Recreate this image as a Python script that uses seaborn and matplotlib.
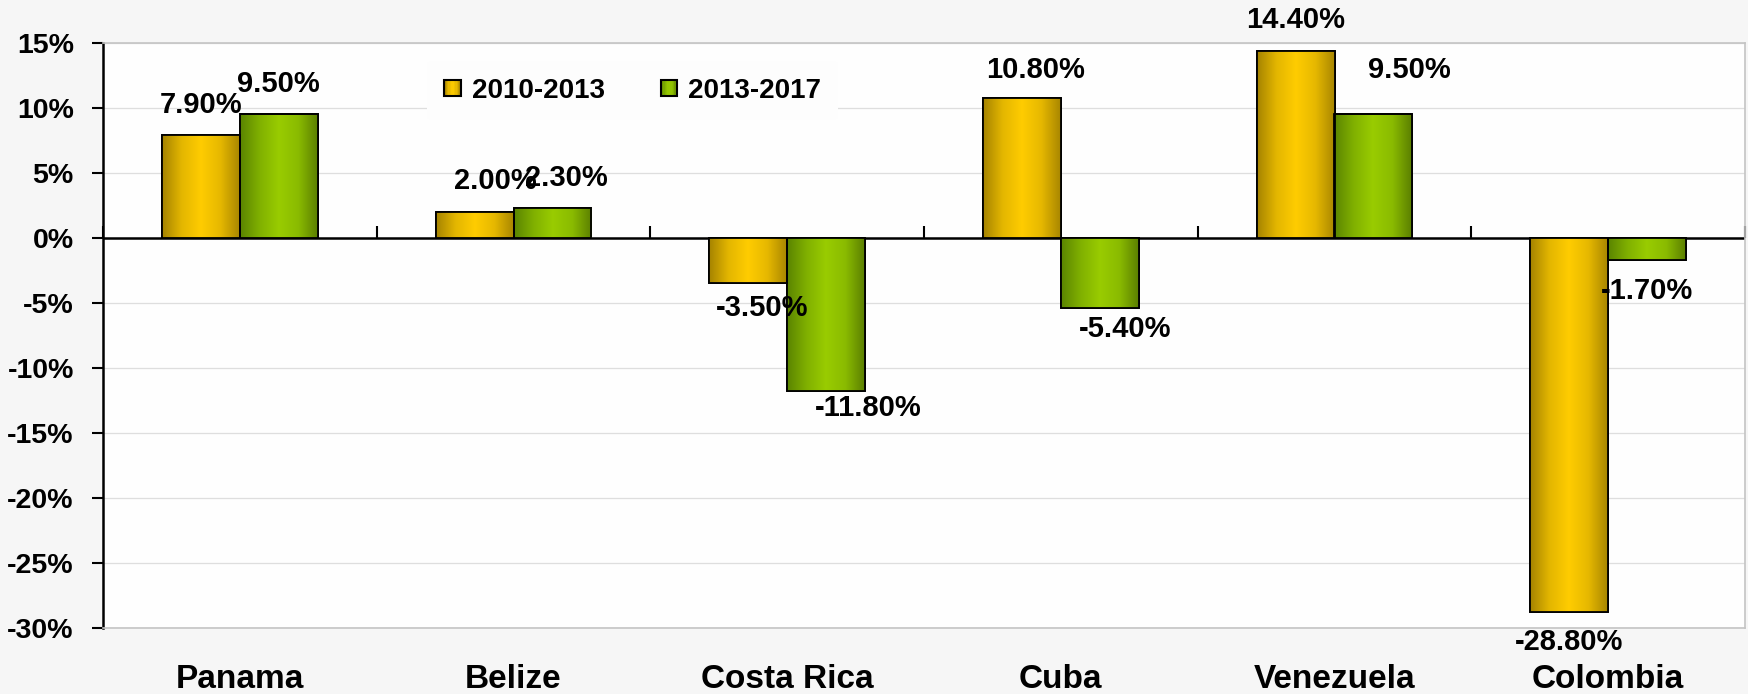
import numpy as np
import pandas as pd
import matplotlib
matplotlib.use("Agg")
import matplotlib.pyplot as plt
from matplotlib.colors import LinearSegmentedColormap
from matplotlib.patches import Rectangle
from matplotlib.legend_handler import HandlerBase
import seaborn as sns

# ---- data -------------------------------------------------------------
countries = ["Panama", "Belize", "Costa Rica", "Cuba", "Venezuela", "Colombia"]
periods = ["2010-2013", "2013-2017"]
growth_2010_2013 = [7.9, 2.0, -3.5, 10.8, 14.4, -28.8]
growth_2013_2017 = [9.5, 2.3, -11.8, -5.4, 9.5, -1.7]
y_ticks = [15, 10, 5, 0, -5, -10, -15, -20, -25, -30]

# label nudges (points) for each bar, per period
label_nudge = [
    [(0, 22), (15, 22), (10, -18), (10, 20), (0, 22), (0, -21)],
    [(0, 22), (10, 22), (30, -12), (18, -15), (26, 32), (0, -22)],
]

df = pd.DataFrame({
    "country": countries * 2,
    "period": [periods[0]] * len(countries) + [periods[1]] * len(countries),
    "value": growth_2010_2013 + growth_2013_2017,
})

# ---- style ------------------------------------------------------------
sns.set_theme(style="white")
plt.rcParams["font.family"] = ["Liberation Sans", "DejaVu Sans"]
plt.rcParams["font.weight"] = "bold"
plt.rcParams["text.color"] = "black"
plt.rcParams["xtick.labelcolor"] = "black"
plt.rcParams["ytick.labelcolor"] = "black"

gold_cmap = LinearSegmentedColormap.from_list(
    "gold", ["#a58300", "#e3b600", "#ffcc00", "#e6b800", "#a88600"])
green_cmap = LinearSegmentedColormap.from_list(
    "green", ["#5a8400", "#80b000", "#99cc00", "#8abb00", "#5b7f00"])
cmaps = [gold_cmap, green_cmap]
base_colors = ["#ffcc00", "#99cc00"]

W, H = 1748, 694
left_px, right_px, top_px, bottom_px = 103, 1745, 43, 628
fig = plt.figure(figsize=(W / 100, H / 100), dpi=100, facecolor="#f6f6f6")
ax = fig.add_axes([left_px / W, 1 - bottom_px / H,
                   (right_px - left_px) / W, (bottom_px - top_px) / H])
ax.set_facecolor("#fefefe")

sns.barplot(data=df, x="country", y="value", hue="period", ax=ax,
            palette=base_colors, width=0.57, saturation=1,
            edgecolor="black", linewidth=1.3, legend=False, zorder=3)

# horizontal gradient fill on each bar
grad = np.linspace(0, 1, 256).reshape(1, -1)
for ci, cont in enumerate(ax.containers):
    for patch in cont.patches:
        x0, y0 = patch.get_x(), patch.get_y()
        w, h = patch.get_width(), patch.get_height()
        im = ax.imshow(grad, extent=[x0, x0 + w, min(y0, y0 + h), max(y0, y0 + h)],
                       aspect="auto", cmap=cmaps[ci], zorder=3.5,
                       interpolation="bilinear")
        im.set_clip_path(patch)
        ax.add_patch(Rectangle((x0, y0), w, h, fill=False, ec="black",
                               lw=1.3, zorder=4))

ax.set_xlim(-0.5, len(countries) - 0.5)
ax.set_ylim(-30, 15)

# value labels
series = [growth_2010_2013, growth_2013_2017]
for ci, cont in enumerate(ax.containers):
    for bi, patch in enumerate(cont.patches):
        v = series[ci][bi]
        xc = patch.get_x() + patch.get_width() / 2
        dx, dy = label_nudge[ci][bi]
        ax.annotate(f"{v:.2f}%", (xc, v), xytext=(dx, dy),
                    textcoords="offset points", ha="center", va="center",
                    fontsize=21, fontweight="bold", color="black", zorder=6)

# y axis
ax.set_yticks(y_ticks)
ax.set_yticklabels([f"{t}%" for t in y_ticks], fontsize=20.5, fontweight="bold")
ax.tick_params(axis="y", direction="out", length=8, width=1.5, color="black",
               pad=13, left=True)
ax.yaxis.grid(True, color="#dedede", lw=0.9, zorder=0)
ax.set_axisbelow(True)

# category labels along the bottom
ax.set_xticks(range(len(countries)))
ax.set_xticklabels(countries, fontsize=24, fontweight="bold")
ax.tick_params(axis="x", length=0, pad=26, bottom=True)
ax.set_xlabel("")
ax.set_ylabel("")

for side in ["top", "right", "bottom"]:
    ax.spines[side].set_color("#c4c4c4")
    ax.spines[side].set_linewidth(1.2)
ax.spines["left"].set_color("black")
ax.spines["left"].set_linewidth(1.8)

# zero baseline with category separators
ax.axhline(0, color="black", lw=1.8, zorder=2.5)
zero_frac = (0 - (-30)) / 45
sec = ax.secondary_xaxis(zero_frac)
sec.set_xticks(np.arange(-0.5, len(countries), 1.0))
sec.tick_params(axis="x", direction="out", length=9, width=1.5,
                color="black", labelbottom=False, labeltop=False)
for s in ["top", "left", "right", "bottom"]:
    sec.spines[s].set_visible(False)


# legend with gradient swatches
class GradientSwatch(HandlerBase):
    def __init__(self, cmap):
        super().__init__()
        self.cmap = cmap

    def create_artists(self, legend, orig_handle, xdescent, ydescent,
                       width, height, fontsize, trans):
        size = fontsize * 0.58
        x0 = xdescent + (width - size) / 2
        y0 = -ydescent + (height - size) / 2
        n = 12
        arts = []
        for i in range(n):
            arts.append(Rectangle((x0 + i * size / n, y0), size / n + 0.3, size,
                                  fc=self.cmap((i + 0.5) / n), ec="none",
                                  transform=trans))
        arts.append(Rectangle((x0, y0), size, size, fill=False, ec="black",
                              lw=1.5, transform=trans))
        return arts


handles = [Rectangle((0, 0), 1, 1), Rectangle((0, 0), 1, 1)]
leg = ax.legend(handles, periods, loc="center", bbox_to_anchor=(0.3226, 0.9187),
                ncol=2, frameon=True, fontsize=20, handlelength=0.6,
                handletextpad=0.4, columnspacing=2.0, borderpad=0.6,
                handler_map={handles[0]: GradientSwatch(gold_cmap),
                             handles[1]: GradientSwatch(green_cmap)})
leg.get_frame().set_facecolor("#fdfdfd")
leg.get_frame().set_edgecolor("none")
leg.get_frame().set_alpha(1)
for t in leg.get_texts():
    t.set_fontweight("bold")
leg.set_zorder(5)

fig.savefig("out.png", dpi=100, facecolor=fig.get_facecolor())
